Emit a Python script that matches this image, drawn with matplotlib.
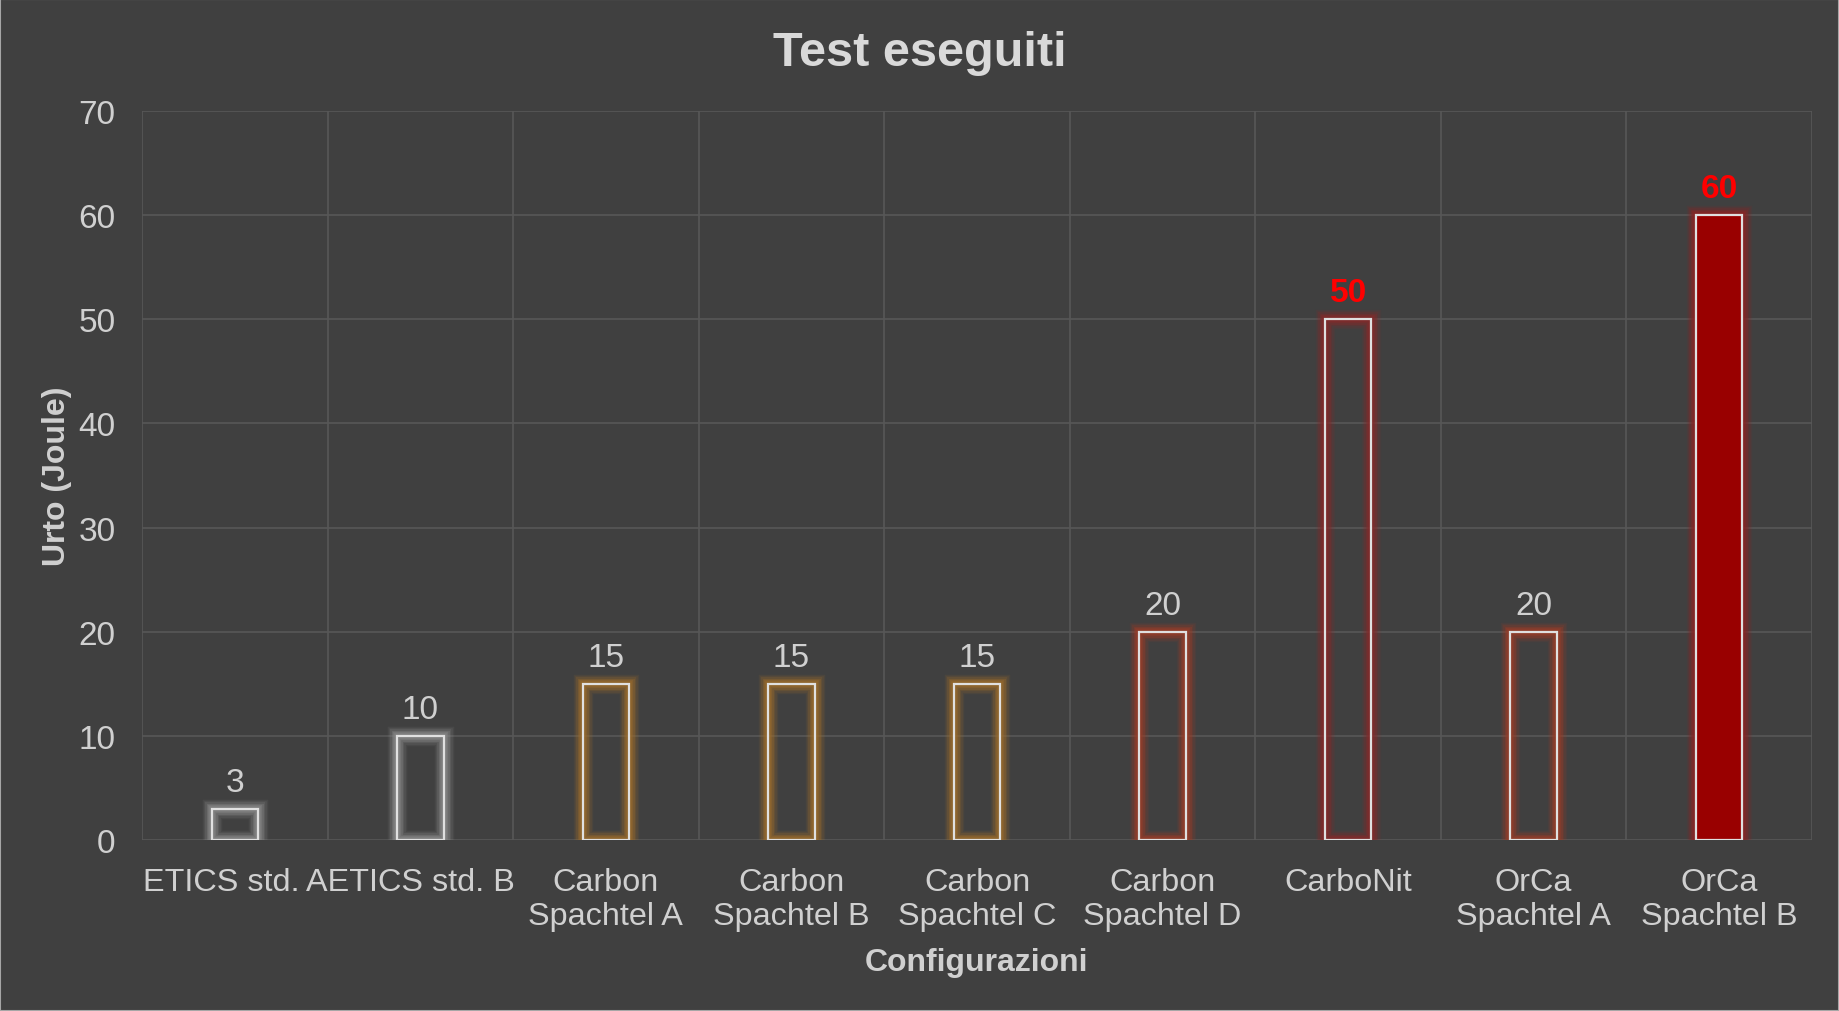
import matplotlib
matplotlib.use('Agg')
import matplotlib.pyplot as plt
import matplotlib.patheffects as pe
import matplotlib.transforms as mtrans
from matplotlib.patches import Rectangle
import numpy as np

categories = ['ETICS std.', 'AETICS std. B', 'Carbon\nSpachtel A', 'Carbon\nSpachtel B',
              'Carbon\nSpachtel C', 'Carbon\nSpachtel D', 'CarboNit', 'OrCa\nSpachtel A',
              'OrCa\nSpachtel B']
values = [3, 10, 15, 15, 15, 20, 50, 20, 60]
glow_colors = ['#8a8a8a', '#8a8a8a', '#9c6c2c', '#9c6c2c', '#9c6c2c',
               '#9a3c28', '#862a2a', '#9a3c28', '#8c2424']
fill_colors = ['none'] * 8 + ['#990000']
label_colors = ['#d0d0d0'] * 6 + ['#ff0000', '#d0d0d0', '#ff0000']
label_bold = [False] * 6 + [True, False, True]

bg = '#404040'
txt = '#d0d0d0'
plt.rcParams['font.family'] = ['Liberation Sans', 'DejaVu Sans']

fig = plt.figure(figsize=(18.39, 10.12), dpi=100, facecolor=bg)
ax = fig.add_axes([142/1839, 1 - 841/1012, (1812-142)/1839, (841-112)/1012])
ax.set_facecolor(bg)

x = np.arange(len(categories))
for i, v in enumerate(values):
    # soft glow: stacked translucent strokes
    glow = [pe.Stroke(linewidth=w, foreground=glow_colors[i], alpha=a)
            for w, a in [(14, 0.12), (12, 0.15), (10, 0.2), (8, 0.3), (6, 0.4), (4, 0.5)]]
    ax.bar(x[i], v, width=0.25, facecolor=fill_colors[i], edgecolor='#e0e0e0',
           linewidth=1.6, zorder=3, path_effects=glow + [pe.Normal()])
    ax.annotate(str(v), (x[i], v), xytext=(0, 8), textcoords='offset points',
                ha='center', va='bottom', fontsize=24, color=label_colors[i],
                fontweight='bold' if label_bold[i] else 'normal', zorder=4)

ax.set_xlim(-0.5, len(categories) - 0.5)
ax.set_ylim(0, 70)
ax.set_yticks(range(0, 71, 10))
ax.set_xticks(x)
ax.set_xticklabels(categories, linespacing=1.15, fontsize=23.3)
ax.set_xticks(np.arange(-0.5, len(categories), 1), minor=True)
ax.grid(True, axis='y', color='#575757', linewidth=1.2, zorder=0)
ax.grid(True, axis='x', which='minor', color='#575757', linewidth=1.2, zorder=0)
ax.tick_params(axis='both', which='both', length=0, colors=txt)
ax.tick_params(axis='y', pad=19, labelsize=24)
ax.tick_params(axis='x', pad=19.5)
for s in ax.spines.values():
    s.set_visible(False)

# the first two labels sit a bit left of their bars in the original
for lab, dx in zip(ax.get_xticklabels()[:2], [-13, -10]):
    lab.set_transform(lab.get_transform() +
                      mtrans.ScaledTranslation(dx/100, 0, fig.dpi_scale_trans))

ax.set_xlabel('Configurazioni', fontsize=23, fontweight='bold', color=txt, labelpad=12)
ax.set_ylabel('Urto (Joule)', fontsize=23, fontweight='bold', color=txt, labelpad=4.5)
fig.text(0.5, 1 - 53/1012, 'Test eseguiti', ha='center', va='center',
         fontsize=35, fontweight='bold', color='#d9d9d9')
fig.patches.append(Rectangle((0, 0), 1, 1, transform=fig.transFigure, fill=False,
                             edgecolor='#a6a6a6', linewidth=1.5))

fig.savefig('out.png', dpi=100, facecolor=bg)
